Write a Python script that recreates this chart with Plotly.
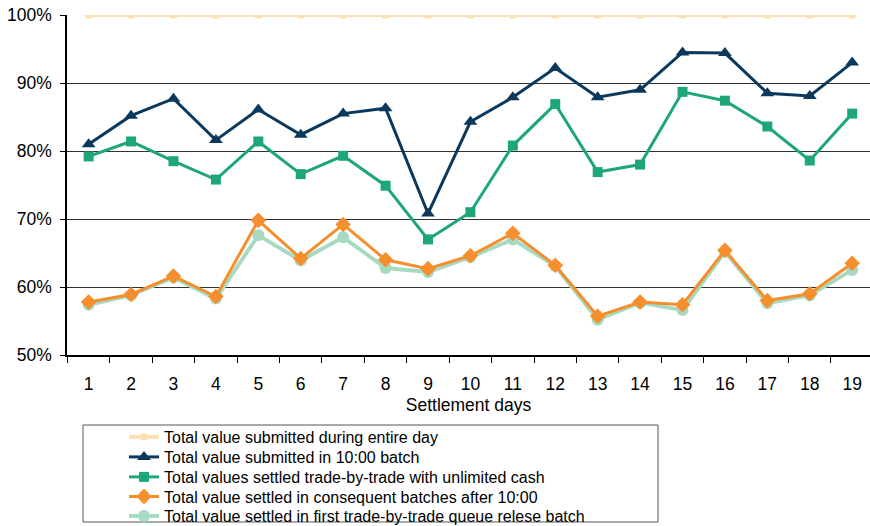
import plotly.graph_objects as go

days = [str(d) for d in range(1, 20)]

submitted_entire_day = [100] * 19
submitted_1000_batch = [81.0, 85.2, 87.7, 81.6, 86.1, 82.4, 85.5, 86.3, 70.8, 84.3,
                        87.9, 92.2, 87.9, 89.0, 94.5, 94.4, 88.5, 88.1, 93.0]
settled_unlimited_cash = [79.2, 81.4, 78.5, 75.8, 81.4, 76.6, 79.3, 74.9, 67.0, 71.0,
                          80.8, 86.9, 76.9, 78.0, 88.7, 87.4, 83.6, 78.6, 85.5]
settled_after_1000 = [57.8, 58.9, 61.6, 58.6, 69.8, 64.2, 69.2, 64.0, 62.7, 64.6,
                      67.9, 63.2, 55.7, 57.8, 57.4, 65.4, 58.0, 59.0, 63.5]
settled_first_release = [57.4, 58.8, 61.4, 58.3, 67.6, 63.9, 67.3, 62.8, 62.2, 64.4,
                         67.0, 63.1, 55.2, 57.7, 56.6, 65.2, 57.6, 58.8, 62.5]

labels = [
    "Total value submitted during entire day",
    "Total value submitted in 10:00 batch",
    "Total values settled trade-by-trade with unlimited cash",
    "Total value settled in consequent batches after 10:00",
    "Total value settled in first trade-by-trade queue relese batch",
]

font = "Liberation Sans, Arial, sans-serif"
axis_font = dict(family=font, size=17.5, color="black")

# plot area in pixels: x 67..870, y 15..355
PLOT_L, PLOT_W, PLOT_B, PLOT_H = 67, 803, 355, 340


def px_x(p):
    return (p - PLOT_L) / PLOT_W


def px_y(p):
    return (PLOT_B - p) / PLOT_H


fig = go.Figure()

fig.add_trace(go.Scatter(
    x=days, y=submitted_entire_day, name=labels[0], legend="legend",
    mode="lines+markers", line=dict(color="#FDDFB4", width=4),
    marker=dict(symbol="square", size=7, color="#FDDFB4"),
))
fig.add_trace(go.Scatter(
    x=days, y=submitted_1000_batch, name=labels[1], legend="legend2",
    mode="lines+markers", line=dict(color="#0A395D", width=3),
    marker=dict(symbol="triangle-up", size=12, color="#0A395D"),
))
fig.add_trace(go.Scatter(
    x=days, y=settled_unlimited_cash, name=labels[2], legend="legend3",
    mode="lines+markers", line=dict(color="#1DA679", width=3),
    marker=dict(symbol="square", size=10, color="#1DA679"),
))
fig.add_trace(go.Scatter(
    x=days, y=settled_first_release, name=labels[4], legend="legend5",
    mode="lines+markers", line=dict(color="#A8DAC2", width=4),
    marker=dict(symbol="circle", size=12, color="#A8DAC2"),
))
fig.add_trace(go.Scatter(
    x=days, y=settled_after_1000, name=labels[3], legend="legend4",
    mode="lines+markers", line=dict(color="#F58F2E", width=3),
    marker=dict(symbol="diamond", size=12, color="#F58F2E"),
))

# one legend per entry so the row spacing can be set exactly
legend_rows = [437, 457, 477, 496.5, 516]
legend_layout = {}
for i, row in enumerate(legend_rows):
    key = "legend" if i == 0 else f"legend{i + 1}"
    legend_layout[key] = dict(
        x=px_x(124), y=px_y(row), xanchor="left", yanchor="middle",
        bgcolor="rgba(0,0,0,0)", borderwidth=0,
        font=dict(family=font, size=16, color="black"),
        itemwidth=30,
    )

fig.update_layout(
    width=870, height=526,
    margin=dict(l=PLOT_L, r=0, t=15, b=171, autoexpand=False),
    paper_bgcolor="white", plot_bgcolor="white",
    font=dict(family=font, size=16, color="black"),
    showlegend=True,
    shapes=[dict(
        type="rect", xref="paper", yref="paper",
        x0=px_x(83), x1=px_x(658), y0=px_y(522), y1=px_y(425),
        line=dict(color="#555555", width=1), fillcolor="rgba(0,0,0,0)",
        layer="below",
    )],
    **legend_layout,
)

fig.update_xaxes(
    type="category", range=[-0.51, 18.42],
    showline=True, linecolor="black", linewidth=1.5,
    ticks="outside", tickson="boundaries", ticklen=6, tickcolor="black",
    ticklabelstandoff=12,
    showgrid=False, zeroline=False,
    title=dict(text="Settlement days", standoff=6, font=axis_font),
    tickfont=axis_font,
)
fig.update_yaxes(
    range=[50, 100], tickvals=[50, 60, 70, 80, 90, 100],
    ticktext=["50%", "60%", "70%", "80%", "90%", "100%"],
    showline=True, linecolor="black", linewidth=1.5,
    ticks="outside", ticklen=5, tickcolor="black",
    ticklabelstandoff=5,
    showgrid=True, gridcolor="#333333", gridwidth=1,
    zeroline=False,
    tickfont=axis_font,
)

fig.write_html("out.html")
